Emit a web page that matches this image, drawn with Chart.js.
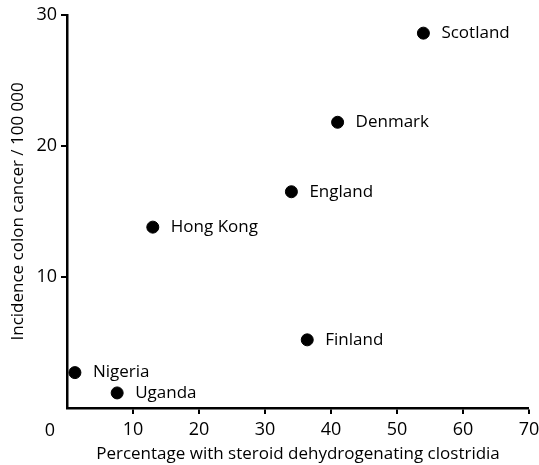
<!DOCTYPE html>
<html lang="en">
<head>
    <meta charset="utf-8">
    <title>Colon cancer vs clostridia</title>
    <style>
      * { margin: 0; padding: 0; }
      body { background: white; }
      .chartBox { width: 539px; height: 465px; }
    </style>
</head>
<body>
    <div class="chartBox">
      <canvas id="scatterChart"></canvas>
    </div>
    <script src="https://cdn.jsdelivr.net/npm/chart.js/dist/chart.umd.min.js"></script>
    <script>
        // values
        const countries = ['Scotland', 'Denmark', 'England', 'Hong Kong', 'Finland', 'Nigeria', 'Uganda'];
        const clostridiaPct = [54, 41, 34, 13, 36.4, 1.2, 7.6];
        const incidence = [28.6, 21.8, 16.5, 13.8, 5.2, 2.7, 1.15];
        const xTicks = [0, 10, 20, 30, 40, 50, 60, 70];
        const yTicks = [0, 10, 20, 30];

        const FONT = '"Open Sans", sans-serif';

        // draw country names beside each point, and the shared "0" at the origin
        const pointLabels = {
            id: 'pointLabels',
            afterDatasetsDraw(chart) {
                const ctx = chart.ctx;
                const meta = chart.getDatasetMeta(0);
                ctx.save();
                ctx.fillStyle = '#000';
                ctx.font = '17px ' + FONT;
                ctx.textBaseline = 'middle';
                ctx.textAlign = 'left';
                meta.data.forEach((pt, i) => {
                    ctx.fillText(countries[i], pt.x + 18, pt.y);
                });
                const xs = chart.scales.x;
                const ys = chart.scales.y;
                ctx.textAlign = 'center';
                ctx.font = '18px ' + FONT;
                ctx.fillText('0', xs.getPixelForValue(0) - 17, ys.getPixelForValue(0) + 23);
                ctx.restore();
            }
        };

        new Chart(document.getElementById('scatterChart'), {
            type: 'scatter',
            data: {
                datasets: [{
                    label: 'Countries',
                    data: countries.map((c, i) => ({ x: clostridiaPct[i], y: incidence[i] })),
                    backgroundColor: '#000',
                    borderColor: '#000',
                    pointRadius: 6,
                    pointHoverRadius: 6
                }]
            },
            options: {
                responsive: true,
                maintainAspectRatio: false,
                animation: false,
                layout: { padding: { top: 14, right: 10, left: 0, bottom: 0 } },
                plugins: {
                    legend: { display: false },
                    tooltip: { enabled: false }
                },
                scales: {
                    x: {
                        type: 'linear',
                        min: 0,
                        max: 70,
                        afterBuildTicks: s => { s.ticks = xTicks.map(v => ({ value: v })); },
                        afterFit: s => { s.height = 57; s.paddingRight = 0; s.paddingLeft = 0; },
                        border: { display: true, color: '#000', width: 2.5 },
                        grid: {
                            drawOnChartArea: false,
                            drawTicks: true,
                            tickLength: 6,
                            color: '#000',
                            lineWidth: c => (c.tick && c.tick.value === 0 ? 0 : 2)
                        },
                        ticks: {
                            color: '#000',
                            padding: 5,
                            maxRotation: 0,
                            font: { family: FONT, size: 18 },
                            callback: v => (v === 0 ? '' : v)
                        },
                        title: {
                            display: true,
                            text: 'Percentage with steroid dehydrogenating clostridia',
                            color: '#000',
                            font: { family: FONT, size: 17 },
                            padding: { top: 0, bottom: 1 }
                        }
                    },
                    y: {
                        type: 'linear',
                        min: 0,
                        max: 30,
                        afterBuildTicks: s => { s.ticks = yTicks.map(v => ({ value: v })); },
                        afterFit: s => { s.width = 67; },
                        border: { display: true, color: '#000', width: 2.5 },
                        grid: {
                            drawOnChartArea: false,
                            drawTicks: true,
                            tickLength: 6,
                            color: '#000',
                            lineWidth: c => (c.tick && c.tick.value === 0 ? 0 : 2)
                        },
                        ticks: {
                            color: '#000',
                            padding: 4,
                            font: { family: FONT, size: 18 },
                            callback: v => (v === 0 ? '' : v)
                        },
                        title: {
                            display: true,
                            text: 'Incidence colon cancer / 100 000',
                            color: '#000',
                            font: { family: FONT, size: 17 },
                            padding: { top: 8, bottom: 0 }
                        }
                    }
                }
            },
            plugins: [pointLabels]
        });
    </script>
</body>
</html>
